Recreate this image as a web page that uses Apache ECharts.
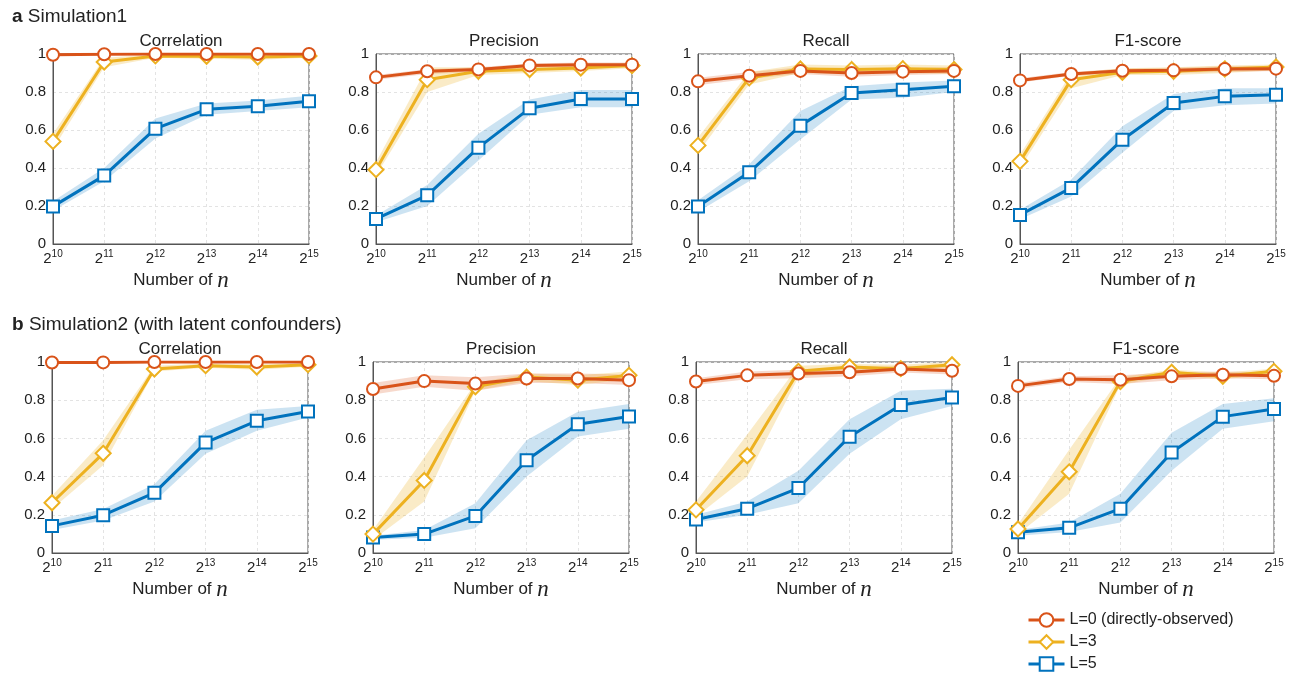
<!DOCTYPE html>
<html><head><meta charset="utf-8">
<script src="https://cdn.jsdelivr.net/npm/echarts@6/dist/echarts.min.js"></script>
<style>html,body{margin:0;padding:0;background:#fff}#c{width:1299px;height:677px}</style>
</head><body><div id="c"></div>
<script>
// x tick labels: exponents of 2
const xExps = ['10','11','12','13','14','15'];
const panelTitles = ['Correlation','Precision','Recall','F1-score'];
const rowTitles = ['Simulation1','Simulation2 (with latent confounders)'];
const rowLetters = ['a','b'];
const seriesNames = ['L=0 (directly-observed)','L=3','L=5'];

// ---- Simulation1 ----
const s1CorrL0   = [0.996, 0.999, 1.0, 1.0, 1.0, 1.0];
const s1CorrL0Lo = [0.99, 0.997, 0.998, 0.998, 0.998, 0.998];
const s1CorrL0Hi = [1.0, 1.0, 1.0, 1.0, 1.0, 1.0];
const s1CorrL3   = [0.54, 0.958, 0.99, 0.988, 0.984, 0.99];
const s1CorrL3Lo = [0.50, 0.93, 0.98, 0.975, 0.97, 0.98];
const s1CorrL3Hi = [0.58, 0.98, 0.997, 0.995, 0.995, 0.997];
const s1CorrL5   = [0.198, 0.36, 0.607, 0.709, 0.725, 0.751];
const s1CorrL5Lo = [0.175, 0.33, 0.555, 0.68, 0.70, 0.72];
const s1CorrL5Hi = [0.225, 0.40, 0.66, 0.74, 0.755, 0.78];

const s1PrecL0   = [0.877, 0.909, 0.919, 0.94, 0.944, 0.944];
const s1PrecL0Lo = [0.865, 0.895, 0.905, 0.93, 0.932, 0.933];
const s1PrecL0Hi = [0.89, 0.92, 0.93, 0.95, 0.955, 0.955];
const s1PrecL3   = [0.391, 0.865, 0.909, 0.918, 0.926, 0.939];
const s1PrecL3Lo = [0.36, 0.80, 0.89, 0.90, 0.91, 0.925];
const s1PrecL3Hi = [0.43, 0.93, 0.93, 0.935, 0.94, 0.95];
const s1PrecL5   = [0.132, 0.256, 0.507, 0.714, 0.763, 0.763];
const s1PrecL5Lo = [0.115, 0.20, 0.44, 0.68, 0.72, 0.72];
const s1PrecL5Hi = [0.15, 0.31, 0.58, 0.76, 0.81, 0.81];

const s1RecL0   = [0.856, 0.886, 0.911, 0.900, 0.907, 0.911];
const s1RecL0Lo = [0.835, 0.87, 0.895, 0.88, 0.89, 0.895];
const s1RecL0Hi = [0.875, 0.905, 0.93, 0.92, 0.925, 0.93];
const s1RecL3   = [0.519, 0.874, 0.921, 0.918, 0.923, 0.918];
const s1RecL3Lo = [0.48, 0.84, 0.90, 0.895, 0.90, 0.895];
const s1RecL3Hi = [0.56, 0.905, 0.945, 0.94, 0.945, 0.94];
const s1RecL5   = [0.198, 0.377, 0.623, 0.795, 0.812, 0.830];
const s1RecL5Lo = [0.17, 0.33, 0.55, 0.76, 0.77, 0.80];
const s1RecL5Hi = [0.23, 0.42, 0.70, 0.83, 0.85, 0.86];

const s1F1L0   = [0.861, 0.895, 0.912, 0.914, 0.921, 0.923];
const s1F1L0Lo = [0.85, 0.885, 0.90, 0.90, 0.905, 0.91];
const s1F1L0Hi = [0.872, 0.905, 0.922, 0.928, 0.935, 0.935];
const s1F1L3   = [0.435, 0.865, 0.904, 0.909, 0.921, 0.932];
const s1F1L3Lo = [0.40, 0.82, 0.89, 0.89, 0.90, 0.915];
const s1F1L3Hi = [0.47, 0.90, 0.925, 0.93, 0.94, 0.945];
const s1F1L5   = [0.153, 0.295, 0.549, 0.742, 0.777, 0.786];
const s1F1L5Lo = [0.13, 0.25, 0.48, 0.70, 0.73, 0.74];
const s1F1L5Hi = [0.18, 0.34, 0.62, 0.79, 0.82, 0.82];

// ---- Simulation2 ----
const s2CorrL0   = [0.997, 0.998, 1.0, 1.0, 1.0, 1.0];
const s2CorrL0Lo = [0.99, 0.995, 0.998, 0.998, 0.998, 0.998];
const s2CorrL0Hi = [1.0, 1.0, 1.0, 1.0, 1.0, 1.0];
const s2CorrL3   = [0.263, 0.522, 0.963, 0.981, 0.974, 0.986];
const s2CorrL3Lo = [0.23, 0.46, 0.95, 0.97, 0.96, 0.975];
const s2CorrL3Hi = [0.30, 0.59, 0.98, 0.992, 0.988, 0.995];
const s2CorrL5   = [0.142, 0.198, 0.315, 0.578, 0.692, 0.741];
const s2CorrL5Lo = [0.12, 0.17, 0.27, 0.52, 0.64, 0.71];
const s2CorrL5Hi = [0.17, 0.23, 0.36, 0.64, 0.75, 0.77];

const s2PrecL0   = [0.859, 0.900, 0.887, 0.914, 0.914, 0.905];
const s2PrecL0Lo = [0.83, 0.87, 0.85, 0.89, 0.89, 0.88];
const s2PrecL0Hi = [0.89, 0.93, 0.92, 0.94, 0.94, 0.935];
const s2PrecL3   = [0.099, 0.38, 0.87, 0.921, 0.905, 0.93];
const s2PrecL3Lo = [0.07, 0.27, 0.85, 0.90, 0.88, 0.91];
const s2PrecL3Hi = [0.12, 0.50, 0.89, 0.94, 0.93, 0.95];
const s2PrecL5   = [0.081, 0.099, 0.194, 0.486, 0.674, 0.715];
const s2PrecL5Lo = [0.07, 0.08, 0.13, 0.40, 0.61, 0.65];
const s2PrecL5Hi = [0.09, 0.12, 0.26, 0.59, 0.74, 0.78];

const s2RecL0   = [0.898, 0.930, 0.940, 0.946, 0.963, 0.954];
const s2RecL0Lo = [0.88, 0.91, 0.915, 0.925, 0.945, 0.935];
const s2RecL0Hi = [0.915, 0.95, 0.96, 0.965, 0.98, 0.97];
const s2RecL3   = [0.226, 0.509, 0.951, 0.974, 0.965, 0.986];
const s2RecL3Lo = [0.19, 0.40, 0.92, 0.955, 0.95, 0.97];
const s2RecL3Hi = [0.27, 0.62, 0.98, 0.99, 0.985, 1.0];
const s2RecL5   = [0.175, 0.232, 0.340, 0.609, 0.775, 0.814];
const s2RecL5Lo = [0.16, 0.20, 0.26, 0.52, 0.70, 0.77];
const s2RecL5Hi = [0.20, 0.27, 0.43, 0.70, 0.85, 0.86];

const s2F1L0   = [0.875, 0.911, 0.907, 0.925, 0.933, 0.928];
const s2F1L0Lo = [0.86, 0.895, 0.885, 0.905, 0.915, 0.91];
const s2F1L0Hi = [0.89, 0.925, 0.93, 0.945, 0.95, 0.945];
const s2F1L3   = [0.126, 0.425, 0.898, 0.946, 0.925, 0.951];
const s2F1L3Lo = [0.10, 0.31, 0.88, 0.93, 0.91, 0.935];
const s2F1L3Hi = [0.15, 0.54, 0.92, 0.96, 0.945, 0.965];
const s2F1L5   = [0.109, 0.132, 0.232, 0.526, 0.714, 0.754];
const s2F1L5Lo = [0.09, 0.11, 0.16, 0.43, 0.65, 0.69];
const s2F1L5Hi = [0.12, 0.16, 0.31, 0.63, 0.78, 0.81];

const panels = [
  [[s1CorrL0,s1CorrL0Lo,s1CorrL0Hi],[s1CorrL3,s1CorrL3Lo,s1CorrL3Hi],[s1CorrL5,s1CorrL5Lo,s1CorrL5Hi]],
  [[s1PrecL0,s1PrecL0Lo,s1PrecL0Hi],[s1PrecL3,s1PrecL3Lo,s1PrecL3Hi],[s1PrecL5,s1PrecL5Lo,s1PrecL5Hi]],
  [[s1RecL0,s1RecL0Lo,s1RecL0Hi],[s1RecL3,s1RecL3Lo,s1RecL3Hi],[s1RecL5,s1RecL5Lo,s1RecL5Hi]],
  [[s1F1L0,s1F1L0Lo,s1F1L0Hi],[s1F1L3,s1F1L3Lo,s1F1L3Hi],[s1F1L5,s1F1L5Lo,s1F1L5Hi]],
  [[s2CorrL0,s2CorrL0Lo,s2CorrL0Hi],[s2CorrL3,s2CorrL3Lo,s2CorrL3Hi],[s2CorrL5,s2CorrL5Lo,s2CorrL5Hi]],
  [[s2PrecL0,s2PrecL0Lo,s2PrecL0Hi],[s2PrecL3,s2PrecL3Lo,s2PrecL3Hi],[s2PrecL5,s2PrecL5Lo,s2PrecL5Hi]],
  [[s2RecL0,s2RecL0Lo,s2RecL0Hi],[s2RecL3,s2RecL3Lo,s2RecL3Hi],[s2RecL5,s2RecL5Lo,s2RecL5Hi]],
  [[s2F1L0,s2F1L0Lo,s2F1L0Hi],[s2F1L3,s2F1L3Lo,s2F1L3Hi],[s2F1L5,s2F1L5Lo,s2F1L5Hi]]
];

// ---- styling / layout ----
const FONT = "'Liberation Sans', Arial, Helvetica, sans-serif";
const lineColors = ['#D95319', '#EDB120', '#0072BD'];
const bandColors = ['rgba(217,83,25,0.22)', 'rgba(237,177,32,0.25)', 'rgba(0,114,189,0.2)'];
const symbols = ['emptyCircle', 'emptyDiamond', 'emptyRect'];
const symbolSizes = [12, 15, 12];
const gridLefts = [[53, 376, 698, 1020], [52, 373, 696, 1018]];
const gridTops = [54, 362];
const gridW = 256, gridHs = [190, 191];

const grids = [], xAxes = [], yAxes = [], series = [], titles = [];
const cats = xExps.map(e => '2^' + e);

rowLetters.forEach((l, r) => {
  titles.push({
    text: '{b|' + l + '} ' + rowTitles[r], left: 12, top: r === 0 ? 7 : 315, padding: 0,
    textStyle: { fontFamily: FONT, fontSize: 19, fontWeight: 'normal', color: '#222',
      rich: { b: { fontFamily: FONT, fontSize: 19, fontWeight: 'bold', color: '#222' } } }
  });
});

panels.forEach((p, i) => {
  const r = Math.floor(i / 4), c = i % 4;
  const left = gridLefts[r][c], top = gridTops[r], h = gridHs[r];
  grids.push({ left: left, top: top, width: gridW, height: h, show: true,
    borderColor: '#555', borderWidth: 1, backgroundColor: 'transparent' });
  titles.push({ text: panelTitles[c], left: left + gridW / 2, top: top - 21, textAlign: 'center', padding: 0,
    textStyle: { fontFamily: FONT, fontSize: 17, fontWeight: 'normal', color: '#222' } });
  xAxes.push({
    type: 'category', gridIndex: i, data: cats, boundaryGap: false,
    axisLine: { lineStyle: { color: '#555', width: 1 } }, axisTick: { show: false },
    axisLabel: {
      margin: 5, color: '#222', interval: 0,
      formatter: (v) => '{b|2}{s|' + v.split('^')[1] + '}',
      rich: { b: { fontFamily: FONT, fontSize: 15, color: '#222' },
              s: { fontFamily: FONT, fontSize: 10, color: '#222', padding: [0, 0, 9, 0] } }
    },
    splitLine: { show: true, interval: 0, lineStyle: { color: '#e3e3e3', type: [3, 3], width: 1 } },
    name: '{a|Number of }{n|n}', nameLocation: 'middle', nameGap: 25,
    nameTextStyle: { rich: {
      a: { fontFamily: FONT, fontSize: 17, color: '#222' },
      n: { fontFamily: "'Liberation Serif', 'DejaVu Serif', serif", fontStyle: 'italic', fontSize: 23, color: '#222' } } }
  });
  yAxes.push({
    type: 'value', gridIndex: i, min: 0, max: 1, interval: 0.2,
    axisLine: { show: true, lineStyle: { color: '#555', width: 1 } }, axisTick: { show: false },
    axisLabel: { fontFamily: FONT, fontSize: 15, color: '#222', margin: 7 },
    splitLine: { show: true, lineStyle: { color: '#e3e3e3', type: [3, 3], width: 1 } }
  });
  // bands
  p.forEach((lev, k) => {
    const lo = lev[1], hi = lev[2];
    const st = 'band' + i + '_' + k;
    series.push({ type: 'line', name: 'band', xAxisIndex: i, yAxisIndex: i, data: lo, stack: st,
      symbol: 'none', silent: true, lineStyle: { opacity: 0 }, z: 1, animation: false });
    series.push({ type: 'line', name: 'band', xAxisIndex: i, yAxisIndex: i,
      data: hi.map((v, j) => +(v - lo[j]).toFixed(4)), stack: st,
      symbol: 'none', silent: true, lineStyle: { opacity: 0 },
      areaStyle: { color: bandColors[k], opacity: 1 }, z: 1, animation: false });
  });
  // lines (blue first, red on top)
  [2, 1, 0].forEach((k) => {
    series.push({ type: 'line', name: seriesNames[k], xAxisIndex: i, yAxisIndex: i, data: p[k][0],
      symbol: symbols[k], symbolSize: symbolSizes[k], showAllSymbol: true,
      lineStyle: { color: lineColors[k], width: 3 },
      itemStyle: { color: lineColors[k], borderWidth: 2 },
      z: 3 + (2 - k), animation: false, clip: true });
  });
});

const chart = echarts.init(document.getElementById('c'));
chart.setOption({
  backgroundColor: '#fff',
  animation: false,
  title: titles,
  grid: grids, xAxis: xAxes, yAxis: yAxes, series: series,
  legend: {
    data: seriesNames, orient: 'vertical', left: 1027, top: 612, padding: 0,
    itemWidth: 36, itemHeight: 17, itemGap: 6,
    lineStyle: { width: 3 },
    itemStyle: { borderWidth: 2 },
    textStyle: { fontFamily: FONT, fontSize: 16, color: '#222' }
  }
});
</script></body></html>
